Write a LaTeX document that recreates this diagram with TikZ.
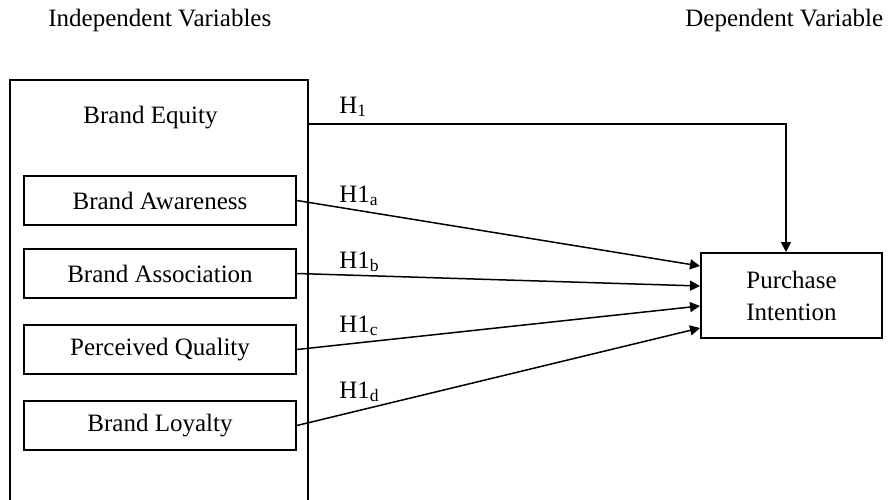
\documentclass[tikz,border=0pt]{standalone}
\usepackage{fontspec}
\setmainfont{Liberation Serif}
\usepackage{tikz}
\usetikzlibrary{arrows.meta,positioning}

\begin{document}
\begin{tikzpicture}[
  x=0.5pt, y=0.5pt,
  node distance=12.5pt,
  every node/.style={font=\fontsize{12.5}{16}\selectfont},
  dim/.style    ={rectangle, draw, line width=1pt, minimum width=136pt,
                  minimum height=24.5pt, inner sep=0pt},
  outer/.style  ={rectangle, draw, line width=1pt, minimum width=149pt,
                  minimum height=220.5pt, inner sep=0pt},
  target/.style ={rectangle, draw, line width=1pt, minimum width=90.5pt,
                  minimum height=42.5pt, align=center, inner sep=0pt},
  hyp/.style    ={anchor=base west, inner sep=0pt},
  rel/.style    ={-{Triangle[length=5pt,width=5pt]}, line width=0.75pt}
]
\useasboundingbox (0,0) rectangle (893,499);
\clip (0,0) rectangle (893,499);

\node[hyp] (indep) at (48,472) {Independent Variables};
\node[hyp] (dep) at (685,472) {Dependent Variable};

\node[outer, anchor=north west] (equity) at (9,420) {};
\node[anchor=base, inner sep=0pt] (eqtitle) at (150.5,376) {Brand Equity};

\node[dim] (aware) at (160,298.5) {Brand Awareness};
\node[dim, below=11pt of aware] (assoc) {Brand Association};
\node[dim, below=of assoc] (quality) {Perceived Quality};
\node[dim, below=of quality] (loyal) {Brand Loyalty};

\node[target] (pi) at (791.5,203.5) {Purchase\\Intention};

\draw[rel] ([yshift=-22.5pt]equity.north east) -| ([xshift=-2.75pt]pi.north);
\draw[rel] (aware.east) -- ([yshift=14.75pt]pi.west);
\draw[rel] (assoc.east) -- ([yshift=4.75pt]pi.west);
\draw[rel] (quality.east) -- ([yshift=-5.25pt]pi.west);
\draw[rel] (loyal.east) -- ([yshift=-16.25pt]pi.west);

\node[hyp] (h1) at (339,386) {H\textsubscript{1}};
\node[hyp] (h1a) at (339,297) {H1\textsubscript{a}};
\node[hyp] (h1b) at (339,231) {H1\textsubscript{b}};
\node[hyp] (h1c) at (339,167) {H1\textsubscript{c}};
\node[hyp] (h1d) at (339,101) {H1\textsubscript{d}};
\end{tikzpicture}
\end{document}
